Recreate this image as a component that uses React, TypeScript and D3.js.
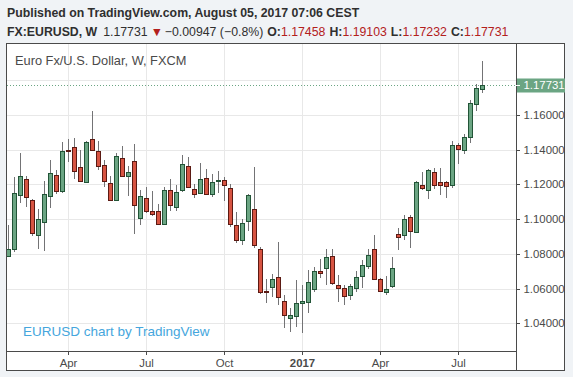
import React from "react";
import * as d3 from "d3";

const firstWeek = new Date(2016, 0, 25);
const lastWeek = new Date(2017, 6, 31);

const opens = [1.0786,1.0827,1.1138,1.1229,1.111,1.0908,1.0981,1.1131,1.1254,1.116,1.1395,1.1415,1.13,1.1213,1.1462,1.1392,1.1312,1.1208,1.111,1.1352,1.125,1.1335,1.1004,1.1119,1.1046,1.1046,1.0971,1.1166,1.1072,1.1166,1.1305,1.1171,1.1152,1.1234,1.1147,1.1221,1.1223,1.1177,1.0966,1.0878,1.0987,1.1057,1.0829,1.0588,1.061,1.0665,1.053,1.0432,1.0444,1.0514,1.0524,1.0598,1.0703,1.0718,1.0789,1.0622,1.0605,1.056,1.0603,1.0672,1.0729,1.0829,1.0655,1.058,1.0612,1.0915,1.0906,1.1013,1.0925,1.1197,1.1167,1.1272,1.1211,1.1211,1.1197,1.1424,1.1399,1.1473,1.1663,1.17458];
const highs = [1.0968,1.1242,1.1379,1.1246,1.1114,1.1058,1.1221,1.134,1.1285,1.1442,1.1458,1.1467,1.14,1.1448,1.1619,1.1452,1.1337,1.1246,1.1379,1.1423,1.1308,1.1433,1.1167,1.1183,1.1163,1.1087,1.1187,1.1229,1.1194,1.1368,1.1356,1.12,1.1324,1.1286,1.1257,1.1276,1.1242,1.1204,1.1038,1.1,1.1147,1.1299,1.0838,1.0657,1.0686,1.0867,1.0562,1.0486,1.0648,1.0619,1.0705,1.0724,1.0771,1.0829,1.0829,1.0679,1.0622,1.0628,1.0702,1.0762,1.0825,1.0906,1.0661,1.0672,1.0781,1.095,1.1021,1.1021,1.1217,1.127,1.129,1.1295,1.1295,1.1217,1.1448,1.1439,1.1489,1.1688,1.1778,1.19103];
const lows = [1.0782,1.0813,1.1092,1.1067,1.0904,1.0827,1.0817,1.1062,1.1144,1.1152,1.1331,1.1231,1.1215,1.121,1.139,1.1285,1.1185,1.1106,1.1106,1.124,1.1135,1.0913,1.0967,1.1033,1.1015,1.0963,1.0963,1.1048,1.1048,1.1158,1.1181,1.1124,1.1143,1.1143,1.1128,1.1152,1.1105,1.0956,1.0863,1.0853,1.0933,1.0834,1.0571,1.0514,1.0552,1.0505,1.0371,1.0352,1.0381,1.0343,1.0457,1.0581,1.0663,1.0619,1.062,1.0522,1.0503,1.0532,1.058,1.0603,1.0714,1.0653,1.058,1.0565,1.0605,1.0819,1.0877,1.0835,1.0921,1.1165,1.1113,1.1174,1.1136,1.1121,1.1178,1.1316,1.1374,1.1439,1.1619,1.17232];
const closes = [1.0829,1.115,1.1248,1.1125,1.0917,1.1,1.1142,1.1265,1.116,1.1392,1.139,1.1275,1.1217,1.1444,1.1398,1.1306,1.1219,1.111,1.1363,1.1248,1.1273,1.1081,1.1131,1.1046,1.1027,1.0971,1.1167,1.1078,1.1154,1.1314,1.1185,1.1147,1.1229,1.1147,1.1215,1.1227,1.1194,1.0971,1.0878,1.0977,1.1139,1.0849,1.0579,1.0583,1.0657,1.0552,1.045,1.0446,1.0514,1.0531,1.064,1.0699,1.069,1.0783,1.0632,1.0605,1.0557,1.0616,1.0668,1.0737,1.0795,1.0657,1.0586,1.0599,1.072,1.0896,1.0998,1.0931,1.1211,1.1178,1.1284,1.1195,1.1197,1.119,1.1424,1.1404,1.147,1.1669,1.1755,1.17731];

const priceTicks = [1.04, 1.06, 1.08, 1.1, 1.12, 1.14, 1.16];
const gridPrices = [1.04, 1.06, 1.08, 1.1, 1.12, 1.14, 1.16, 1.18];
const lastPrice = 1.17731;

const headerLine1 = "Published on TradingView.com, August 05, 2017 07:06 CEST";
const symbolText = "FX:EURUSD, W";
const changeText = "\u22120.00947 (\u22120.8%)";
const ohlcLabels = ["O:", "H:", "L:", "C:"];
const ohlcValues = ["1.17458", "1.19103", "1.17232", "1.17731"];
const chartTitle = "Euro Fx/U.S. Dollar, W, FXCM";
const watermark = "EURUSD chart by TradingView";

const W = 573, H = 377;
const plotL = 7, plotR = 516, plotT = 44, plotB = 351;

export default function App() {
  const weeks = d3.timeMonday.range(firstWeek, d3.timeDay.offset(lastWeek, 1));
  const candles = weeks.map((d, i) => ({ d, o: opens[i], h: highs[i], l: lows[i], c: closes[i] }));
  const x = d3.scaleLinear().domain([0, candles.length - 1]).range([8.5, 8.5 + 6 * (candles.length - 1)]);
  const y = d3.scaleLinear().domain([1.04, 1.16]).range([323.3, 114.8]);

  const quarterStarts = d3.timeMonth.every(3)!.range(firstWeek, lastWeek);
  const xTicks = quarterStarts.map((m) => {
    const idx = candles.findIndex((c) => c.d >= m);
    const isYear = m.getMonth() === 0;
    return { i: idx, label: isYear ? d3.timeFormat("%Y")(m) : d3.timeFormat("%b")(m), bold: isYear };
  });

  const up = "#6ba583", down = "#d75442", upB = "#225437", downB = "#5b1a13", wick = "#737375";
  const sans = "'Liberation Sans', Arial, sans-serif";
  const dark = "#2f2f2f";
  const red = "#b3201c";

  return (
    <svg width={W} height={H} style={{ position: "absolute", left: 0, top: 0, display: "block" }}>
      <rect x={0} y={0} width={W} height={H} fill="#f0f3f6" />
      <text x={7} y={17} fontFamily={sans} fontSize={12.3} fontWeight={600} fill={dark}>{headerLine1}</text>
      <text x={7} y={36} fontFamily={sans} fontSize={12.3} fontWeight={600} fill={dark}>
        <tspan>{symbolText}</tspan>
        <tspan dx={6} fontWeight={400}>{lastPrice.toFixed(5)}</tspan>
        <tspan dx={3} fill={red}>{"\u25BC"}</tspan>
        <tspan dx={2} fontWeight={400}>{changeText}</tspan>
        {ohlcLabels.map((lab, k) => (
          <React.Fragment key={k}>
            <tspan dx={4}>{lab}</tspan>
            <tspan fill={red} fontWeight={400}>{ohlcValues[k]}</tspan>
          </React.Fragment>
        ))}
      </text>

      <rect x={6.5} y={43.5} width={558} height={327} fill="#ffffff" stroke="#4a4a4a" strokeWidth={1} />

      <defs>
        <clipPath id="plotclip">
          <rect x={plotL} y={plotT} width={plotR - plotL} height={plotB - plotT} />
        </clipPath>
      </defs>

      <g clipPath="url(#plotclip)">
        {gridPrices.map((p) => (
          <line key={p} x1={plotL} x2={plotR} y1={Math.round(y(p)) + 0.5} y2={Math.round(y(p)) + 0.5} stroke="#e8e8e8" />
        ))}
        {xTicks.map((t) => (
          <line key={t.i} x1={x(t.i)} x2={x(t.i)} y1={plotT} y2={plotB} stroke="#e8e8e8" />
        ))}
        <line x1={plotL} x2={plotR} y1={Math.round(y(lastPrice)) + 0.5} y2={Math.round(y(lastPrice)) + 0.5} stroke={up} strokeDasharray="1,2" />
        {candles.map((c, i) => {
          const cx = x(i);
          const isUp = c.c >= c.o;
          const top = Math.round(y(Math.max(c.o, c.c))) + 0.5;
          const bot = Math.round(y(Math.min(c.o, c.c))) + 0.5;
          return (
            <g key={i}>
              <line x1={cx} x2={cx} y1={Math.round(y(c.h))} y2={Math.round(y(c.l))} stroke={wick} />
              <rect x={cx - 2} y={top} width={4} height={Math.max(bot - top, 1)} fill={isUp ? up : down} stroke={isUp ? upB : downB} />
            </g>
          );
        })}
        <text x={23} y={336} fontFamily={sans} fontSize={13.5} fill="#45a6dd">{watermark}</text>
      </g>

      <text x={15} y={65} fontFamily={sans} fontSize={12.8} fill="#4a4a4a">{chartTitle}</text>

      <line x1={plotR + 0.5} x2={plotR + 0.5} y1={43.5} y2={370.5} stroke="#4a4a4a" />
      <line x1={6.5} x2={plotR + 0.5} y1={plotB + 0.5} y2={plotB + 0.5} stroke="#4a4a4a" />

      {priceTicks.map((p) => (
        <g key={p}>
          <line x1={plotR} x2={plotR + 4} y1={Math.round(y(p)) + 0.5} y2={Math.round(y(p)) + 0.5} stroke="#4a4a4a" />
          <text x={523.5} y={y(p) + 4} fontFamily={sans} fontSize={11.4} fill="#4a4a4a">{p.toFixed(5)}</text>
        </g>
      ))}
      <rect x={517} y={Math.round(y(lastPrice)) - 6.5} width={48} height={14} fill={up} />
      <line x1={plotR} x2={plotR + 4} y1={Math.round(y(lastPrice)) + 0.5} y2={Math.round(y(lastPrice)) + 0.5} stroke="#ffffff" />
      <text x={523.5} y={y(lastPrice) + 4} fontFamily={sans} fontSize={11.4} fill="#ffffff">{lastPrice.toFixed(5)}</text>

      {xTicks.map((t) => (
        <g key={t.i}>
          <line x1={x(t.i)} x2={x(t.i)} y1={plotB} y2={plotB + 4} stroke="#4a4a4a" />
          <text x={x(t.i)} y={367} textAnchor="middle" fontFamily={sans} fontSize={11.4} fontWeight={t.bold ? 700 : 400} fill="#4a4a4a">{t.label}</text>
        </g>
      ))}
    </svg>
  );
}
